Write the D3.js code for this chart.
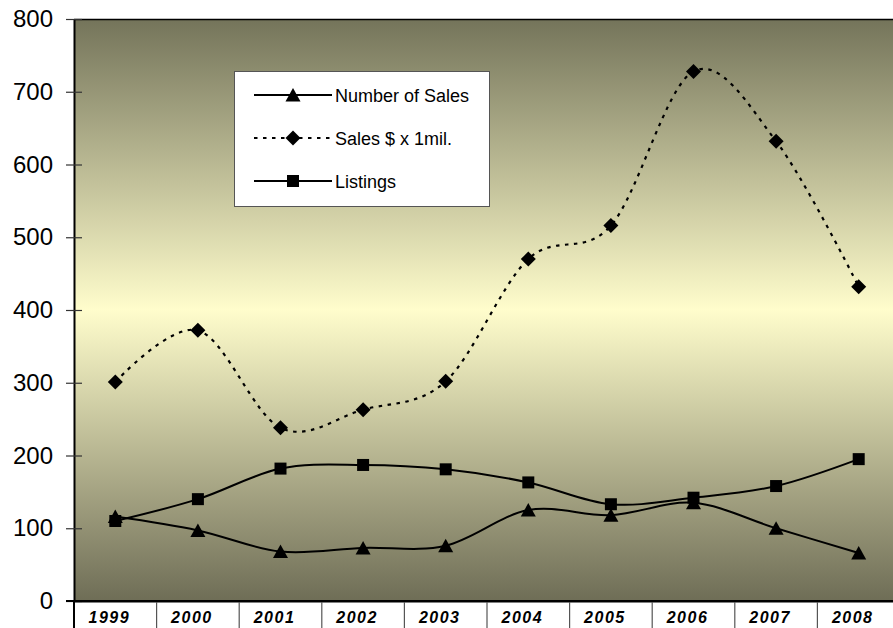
<!DOCTYPE html>
<html>
<head>
<meta charset="utf-8">
<script src="https://cdn.jsdelivr.net/npm/d3@7"></script>
<style>
  html, body { margin: 0; padding: 0; background: #ffffff; }
  svg { display: block; }
</style>
</head>
<body>
<svg id="chart" width="893" height="628"></svg>
<script>
// Market summary by year
const years = ["1999", "2000", "2001", "2002", "2003", "2004", "2005", "2006", "2007", "2008"];
const numberOfSales = [116, 97, 68, 73, 76, 125, 118, 135, 100, 66];
const salesMillions = [301, 372, 238, 263, 302, 470, 516, 728, 632, 432];
const listings = [110, 140, 182, 187, 181, 163, 133, 142, 158, 195];
const yTicks = [0, 100, 200, 300, 400, 500, 600, 700, 800];

const seriesNames = ["Number of Sales", "Sales $ x 1mil.", "Listings"];

const svg = d3.select("#chart");
const W = 893, H = 628;
const plot = { left: 74, right: 900, top: 19, bottom: 601 };

const x = d3.scaleBand().domain(years).range([plot.left, plot.right]).padding(0);
const y = d3.scaleLinear().domain([0, 800]).range([plot.bottom, plot.top]);

// Plot area background: dark olive at the edges, pale yellow in the middle
const defs = svg.append("defs");
const grad = defs.append("linearGradient")
  .attr("id", "bg").attr("x1", 0).attr("y1", 0).attr("x2", 0).attr("y2", 1);
grad.append("stop").attr("offset", "0%").attr("stop-color", "#74745a");
grad.append("stop").attr("offset", "50%").attr("stop-color", "#fffdcc");
grad.append("stop").attr("offset", "100%").attr("stop-color", "#6e6d56");

svg.append("rect")
  .attr("x", plot.left).attr("y", plot.top)
  .attr("width", plot.right - plot.left).attr("height", plot.bottom - plot.top)
  .attr("fill", "url(#bg)");

// Top border of the plot area
svg.append("line")
  .attr("x1", plot.left).attr("x2", W)
  .attr("y1", plot.top + 0.5).attr("y2", plot.top + 0.5)
  .attr("stroke", "#000").attr("stroke-width", 1.5);

// Y axis
const yAxis = svg.append("g")
  .attr("transform", `translate(${plot.left},0)`)
  .call(d3.axisLeft(y).tickValues(yTicks).tickSize(8).tickPadding(13).tickSizeOuter(0));
yAxis.select(".domain").attr("stroke", "#000").attr("stroke-width", 2);
yAxis.selectAll(".tick line").attr("x1", -8).attr("x2", 8).attr("stroke", "#333").attr("stroke-width", 1.2);
yAxis.selectAll(".tick text")
  .attr("font-family", "Arial, 'Liberation Sans', sans-serif")
  .attr("font-size", 24).attr("fill", "#000");

// X axis: category cells separated by long ticks below the axis
const xAxis = svg.append("g")
  .attr("transform", `translate(0,${plot.bottom})`)
  .call(d3.axisBottom(x).tickSize(0).tickSizeOuter(0).tickPadding(0));
xAxis.select(".domain").attr("stroke", "#000").attr("stroke-width", 2);
xAxis.selectAll(".tick text")
  .attr("font-family", "Arial, 'Liberation Sans', sans-serif")
  .attr("font-size", 16).attr("font-weight", "bold").attr("font-style", "italic")
  .attr("letter-spacing", "1.5px")
  .attr("dy", null).attr("y", 22).attr("dx", -6)
  .attr("fill", "#000");

// Cell separators at band boundaries
const boundaries = years.map(d => x(d));
svg.append("g").selectAll("line").data(boundaries).join("line")
  .attr("x1", d => d).attr("x2", d => d)
  .attr("y1", plot.bottom).attr("y2", H)
  .attr("stroke", (d, i) => i === 0 ? "#000" : "#555")
  .attr("stroke-width", (d, i) => i === 0 ? 2 : 1.2);

// Axis line extended left to the zero tick
svg.append("line")
  .attr("x1", plot.left - 8).attr("x2", W)
  .attr("y1", plot.bottom).attr("y2", plot.bottom)
  .attr("stroke", "#000").attr("stroke-width", 2);

// Marker shapes
const markerPath = {
  triangle: "M0,-7L7.5,6.5L-7.5,6.5Z",
  diamond: "M0,-7.5L7.5,0L0,7.5L-7.5,0Z",
  square: "M-6,-6H6V6H-6Z"
};

const series = [
  { name: seriesNames[0], values: numberOfSales, marker: "triangle", dash: null },
  { name: seriesNames[1], values: salesMillions, marker: "diamond", dash: "3.5,5.5" },
  { name: seriesNames[2], values: listings, marker: "square", dash: null }
];

const line = d3.line()
  .x((d, i) => x(years[i]) + x.bandwidth() / 2)
  .y(d => y(d))
  .curve(d3.curveCardinal.tension(0));

const seriesG = svg.append("g");
series.forEach(s => {
  seriesG.append("path")
    .datum(s.values)
    .attr("d", line)
    .attr("fill", "none")
    .attr("stroke", "#000")
    .attr("stroke-width", s.dash ? 2.2 : 2)
    .attr("stroke-dasharray", s.dash);
  seriesG.append("g").selectAll("path").data(s.values).join("path")
    .attr("d", markerPath[s.marker])
    .attr("transform", (d, i) => `translate(${x(years[i]) + x.bandwidth() / 2},${y(d)})`)
    .attr("fill", "#000");
});

// Legend
const legend = svg.append("g").attr("transform", "translate(234,71)");
legend.append("rect")
  .attr("x", 0.5).attr("y", 0.5).attr("width", 255).attr("height", 135)
  .attr("fill", "#fff").attr("stroke", "#555").attr("stroke-width", 1);
series.forEach((s, i) => {
  const cy = 24 + i * 43;
  legend.append("line")
    .attr("x1", 20).attr("x2", 98).attr("y1", cy).attr("y2", cy)
    .attr("stroke", "#000").attr("stroke-width", 2)
    .attr("stroke-dasharray", s.dash);
  legend.append("path")
    .attr("d", markerPath[s.marker])
    .attr("transform", `translate(59,${cy})`)
    .attr("fill", "#000");
  legend.append("text")
    .attr("x", 101).attr("y", cy + 6.5)
    .attr("font-family", "Arial, 'Liberation Sans', sans-serif")
    .attr("font-size", 18)
    .attr("fill", "#000")
    .text(s.name);
});
</script>
</body>
</html>
